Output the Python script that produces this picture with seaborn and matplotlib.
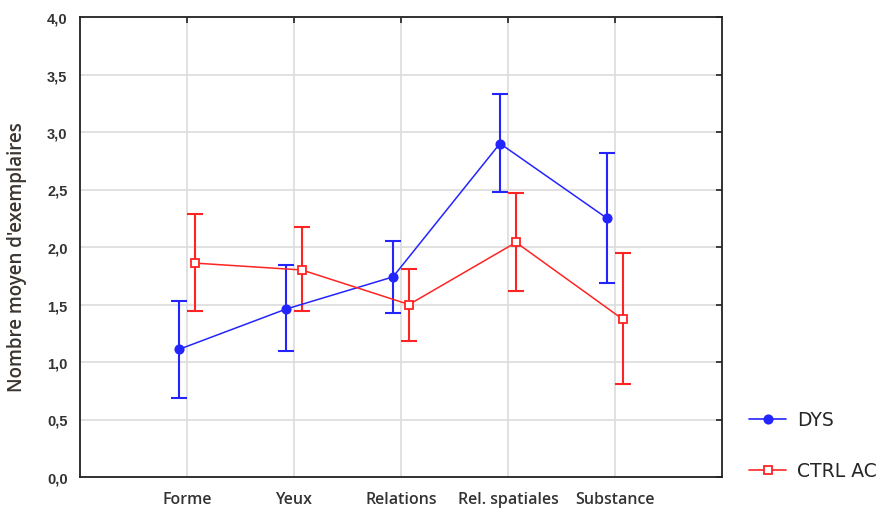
import matplotlib
matplotlib.use("Agg")
import matplotlib.pyplot as plt
import seaborn as sns
import pandas as pd
import numpy as np
from matplotlib.ticker import FuncFormatter
from matplotlib.lines import Line2D

categories = ["Forme", "Yeux", "Relations", "Rel. spatiales", "Substance"]
dys_mean = [1.11, 1.46, 1.74, 2.90, 2.25]
dys_low = [0.69, 1.10, 1.43, 2.48, 1.69]
dys_high = [1.53, 1.84, 2.05, 3.33, 2.82]
ctrl_mean = [1.86, 1.80, 1.50, 2.04, 1.37]
ctrl_low = [1.44, 1.44, 1.18, 1.62, 0.81]
ctrl_high = [2.29, 2.17, 1.81, 2.47, 1.95]
series_names = ["DYS", "CTRL AC"]

sns.set_theme(style="white")
plt.rcParams["font.family"] = ["Liberation Sans", "DejaVu Sans"]

fig = plt.figure(figsize=(8.88, 5.10), dpi=100)
ax = fig.add_axes([80 / 888, 1 - 478 / 510, (722 - 80) / 888, (478 - 18) / 510])

idx = np.arange(len(categories))
offset = 0.075
rows = []
for i, c in enumerate(categories):
    rows.append(dict(cat=c, pos=i - offset, mean=dys_mean[i], low=dys_low[i], high=dys_high[i], grp=series_names[0]))
    rows.append(dict(cat=c, pos=i + offset, mean=ctrl_mean[i], low=ctrl_low[i], high=ctrl_high[i], grp=series_names[1]))
df = pd.DataFrame(rows)

colors = {"DYS": "#2424ff", "CTRL AC": "#ff2424"}
markers = {"DYS": "o", "CTRL AC": "s"}

for g in series_names:
    d = df[df.grp == g]
    sns.lineplot(data=d, x="pos", y="mean", ax=ax, color=colors[g], lw=1.1,
                 marker=markers[g], markersize=6,
                 markerfacecolor=colors[g] if g == "DYS" else "white",
                 markeredgecolor=colors[g], markeredgewidth=1.3, zorder=4, legend=False)
    ax.errorbar(d["pos"], d["mean"], yerr=[d["mean"] - d["low"], d["high"] - d["mean"]],
                fmt="none", ecolor=colors[g], elinewidth=1.5, capsize=5.5, capthick=1.5, zorder=3)

leg_handles = []
for g in series_names:
    leg_handles.append(Line2D([], [], color=colors[g], lw=1.2, marker=markers[g], markersize=6,
                              markerfacecolor=colors[g] if g == "DYS" else "white",
                              markeredgecolor=colors[g], markeredgewidth=1.3))
fig.legend(leg_handles, series_names, loc="lower left", bbox_to_anchor=(732 / 888, 12 / 510),
           frameon=False, handlelength=2.0, labelspacing=1.7, handletextpad=0.55,
           prop={"family": "DejaVu Sans", "size": 13.5})

ax.set_xlim(-1, 5)
ax.set_ylim(0, 4)
ax.set_xticks(idx)
ax.set_xticklabels(categories)
ax.set_yticks(np.arange(0, 4.01, 0.5))
ax.yaxis.set_major_formatter(FuncFormatter(lambda v, p: f"{v:.1f}".replace(".", ",")))
ax.grid(True, color="#dcdcdc", lw=1.2)
ax.set_axisbelow(True)
for s in ax.spines.values():
    s.set_visible(True)
    s.set_color("#222222")
    s.set_linewidth(1.3)
ax.tick_params(direction="in", length=4, width=1.2, color="#222222",
               top=True, right=True, labelcolor="#333333")
ax.tick_params(axis="x", pad=10)
ax.tick_params(axis="y", pad=9, labelsize=10.5)
for t in ax.get_yticklabels():
    t.set_fontweight("bold")
for t in ax.get_xticklabels():
    t.set_fontfamily("Open Sans")
    t.set_fontsize(11.5)
    t.set_fontweight("semibold")
ax.set_xlabel("")
ax.set_ylabel("Nombre moyen d'exemplaires", fontsize=13.5, color="#3a3530",
              fontfamily="Open Sans", fontweight="semibold")
ax.yaxis.set_label_coords(-0.082, 0.48)

fig.savefig("out.png", dpi=100)
